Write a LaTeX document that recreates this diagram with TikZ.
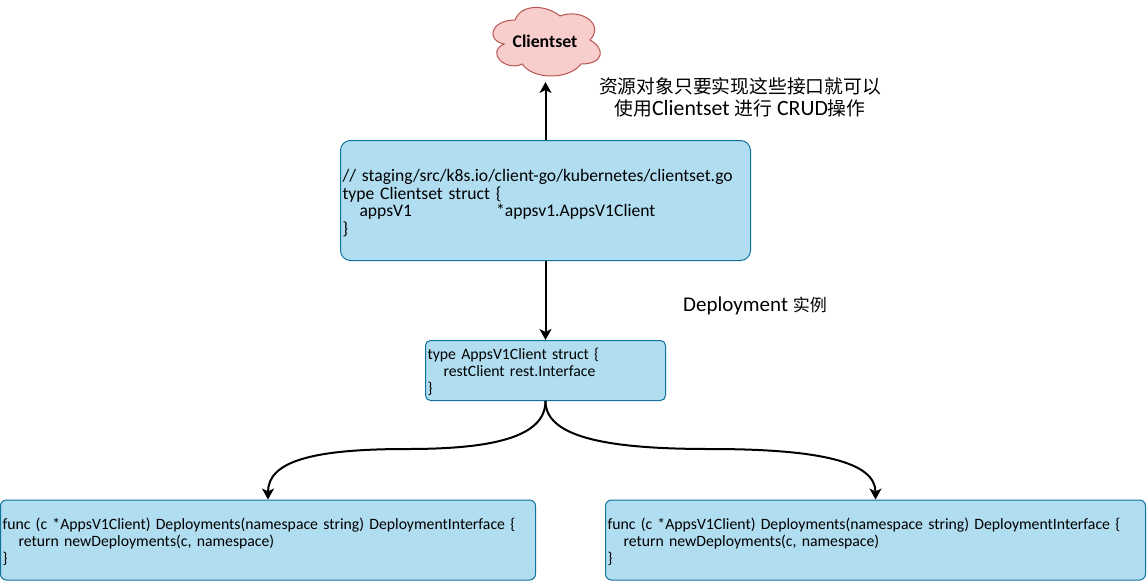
\documentclass[tikz,border=0pt]{standalone}
\usepackage{fontspec}
\usetikzlibrary{arrows.meta}
\setmainfont{Carlito}
\newfontfamily\cjk{Noto Sans CJK SC}
\newcommand{\cjkbig}{\cjk\fontsize{18.8}{22}\selectfont}
\begin{document}
\begin{tikzpicture}[x=1pt,y=-1pt,
codebox/.style={rectangle,rounded corners=#1,draw=codeline,fill=codefill,line width=1pt,align=left,inner xsep=2pt,inner ysep=3pt,font=\fontsize{15.75}{17}\selectfont},
arrowline/.style={-{Stealth[length=11pt,width=12pt,inset=3pt]},line width=2pt,black},
arrownote/.style={black,align=center,font=\fontsize{21.8}{22}\selectfont}]

\definecolor{codefill}{HTML}{B1DDF0}
\definecolor{codeline}{HTML}{10739E}
\definecolor{cloudfill}{HTML}{F8CECC}
\definecolor{cloudline}{HTML}{B85450}

\useasboundingbox (0,0) rectangle (1147,581);

% cloud outline
\draw [shift={(485,0)},x=120pt,y=-80pt,draw=cloudline,fill=cloudfill,line width=1pt]
  (.25,.25) .. controls (.05,.25) and (0,.5) .. (.16,.55)
  .. controls (0,.66) and (.18,.9) .. (.31,.8)
  .. controls (.4,1) and (.7,1) .. (.8,.8)
  .. controls (1,.8) and (1,.6) .. (.875,.5)
  .. controls (1,.3) and (.8,.1) .. (.625,.2)
  .. controls (.5,.05) and (.3,.05) .. (.25,.25) -- cycle;
\node (clientset) at (545,41) [font=\fontsize{17.8}{20}\selectfont\bfseries] {Clientset};
\coordinate (cloudtip) at (545.5,82);

\node (clientbox) at (545.5,200.5) [codebox=10pt,minimum width=410pt,minimum height=120pt,text width=406pt,font=\fontsize{17.6}{17.6}\selectfont] {\rule{0pt}{17pt}// staging/src/k8s.io/client-go/kubernetes/clientset.go\\type Clientset struct \{\\\hspace*{17pt}appsV1\hspace*{84pt}*appsv1.AppsV1Client\\\}};

\node (structbox) at (545.5,370.5) [codebox=5pt,minimum width=240pt,minimum height=60pt,text width=236pt] {\rule{0pt}{15pt}type AppsV1Client struct \{\\\hspace*{16pt}restClient rest.Interface\\\}};

\node (leftbox) at (268,540) [codebox=6pt,minimum width=535pt,minimum height=80pt,text width=531pt] {\rule{0pt}{15pt}func (c *AppsV1Client) Deployments(namespace string) DeploymentInterface \{\\\hspace*{16pt}return newDeployments(c, namespace)\\\}};
\node (rightbox) at (875.5,540) [codebox=6pt,minimum width=540pt,minimum height=80pt,text width=536pt] {\rule{0pt}{15pt}func (c *AppsV1Client) Deployments(namespace string) DeploymentInterface \{\\\hspace*{16pt}return newDeployments(c, namespace)\\\}};

\node (note1) at (740,97) [arrownote] {{\cjkbig 资源对象只要实现这些接口就可以}\\{\cjkbig 使用}Clientset {\cjkbig 进行} CRUD{\cjkbig 操作}};
\node (note2) at (755,306) [arrownote,font=\fontsize{21}{22}\selectfont] {Deployment {\cjk\fontsize{17}{22}\selectfont 实例}};

\coordinate (leftmid) at (407,449);
\coordinate (rightmid) at (710,449);

\draw [arrowline] (clientbox.north) -- (cloudtip);
\draw [arrowline] (clientbox.south) -- (structbox.north);
\draw [arrowline] (structbox.south) .. controls (545.5,438) and (490,449) .. (leftmid) .. controls (310,449) and (268,462) .. (leftbox.north);
\draw [arrowline] (structbox.south) .. controls (545.5,438) and (610,449) .. (rightmid) .. controls (820,449) and (875.5,462) .. (rightbox.north);

\end{tikzpicture}
\end{document}
